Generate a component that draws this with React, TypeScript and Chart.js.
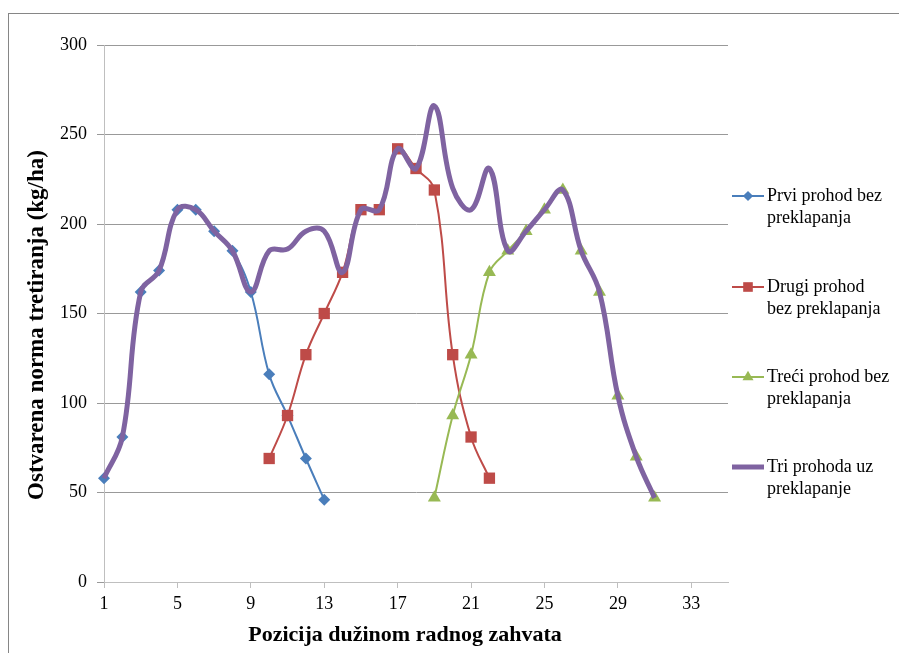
import React, { useEffect, useRef } from 'react';
import { Chart, registerables } from 'chart.js';

Chart.register(...registerables);

// ---- data ----
const xTickValues = [1, 5, 9, 13, 17, 21, 25, 29, 33];
const yTickValues = [0, 50, 100, 150, 200, 250, 300];

const seriesNames = [
  ['Prvi prohod bez', 'preklapanja'],
  ['Drugi prohod', 'bez preklapanja'],
  ['Treći prohod bez', 'preklapanja'],
  ['Tri prohoda uz', 'preklapanje'],
];

const prviX = [1, 2, 3, 4, 5, 6, 7, 8, 9, 10, 11, 12, 13];
const prviY = [58, 81, 162, 174, 208, 208, 196, 185, 162, 116, 93, 69, 46];

const drugiX = [10, 11, 12, 13, 14, 15, 16, 17, 18, 19, 20, 21, 22];
const drugiY = [69, 93, 127, 150, 173, 208, 208, 242, 231, 219, 127, 81, 58];

const treciX = [19, 20, 21, 22, 23, 24, 25, 26, 27, 28, 29, 30, 31];
const treciY = [47, 93, 127, 173, 185, 196, 208, 219, 185, 162, 104, 70, 47];

const triX = [1, 2, 3, 4, 5, 6, 7, 8, 9, 10, 11, 12, 13, 14, 15, 16, 17, 18, 19, 20, 21, 22, 23, 24, 25, 26, 27, 28, 29, 30, 31];
const triY = [58, 81, 162, 174, 208, 208, 196, 185, 162, 185, 186, 196, 196, 173, 208, 208, 242, 231, 266, 220, 208, 231, 185, 196, 208, 219, 185, 162, 104, 70, 47];

const yTitle = 'Ostvarena norma tretiranja (kg/ha)';
const xTitle = 'Pozicija dužinom radnog zahvata';

// ---- styles ----
const FONT = "'Liberation Serif', 'Times New Roman', serif";
const colors = ['#4A7EBB', '#BE4B48', '#98B954', '#7F63A1'];
const pointStyles: any[] = ['rectRot', 'rect', 'triangle', false];
const pointRadii = [6, 8, 7.5, 0];
const lineWidths = [2, 2, 2, 5];

const toPoints = (xs: number[], ys: number[]) => xs.map((x, i) => ({ x, y: ys[i] }));

function drawMarker(ctx: CanvasRenderingContext2D, style: string, r: number, x: number, y: number) {
  ctx.beginPath();
  if (style === 'rectRot') {
    ctx.moveTo(x, y - r);
    ctx.lineTo(x + r, y);
    ctx.lineTo(x, y + r);
    ctx.lineTo(x - r, y);
  } else if (style === 'rect') {
    const s = r * Math.SQRT1_2;
    ctx.rect(x - s, y - s, 2 * s, 2 * s);
  } else if (style === 'triangle') {
    ctx.moveTo(x, y - r);
    ctx.lineTo(x + r * Math.sin((2 * Math.PI) / 3), y + r * 0.5);
    ctx.lineTo(x - r * Math.sin((2 * Math.PI) / 3), y + r * 0.5);
  }
  ctx.closePath();
  ctx.fill();
}

const decorPlugin = {
  id: 'decor',
  beforeDraw(chart: any) {
    const ctx = chart.ctx;
    ctx.save();
    ctx.strokeStyle = '#868686';
    ctx.lineWidth = 1;
    ctx.strokeRect(8.5, 13.5, 1200, 1200);
    ctx.restore();
  },
  afterDraw(chart: any) {
    const ctx = chart.ctx;
    ctx.save();
    ctx.fillStyle = '#000';
    // axis titles
    ctx.textAlign = 'center';
    ctx.textBaseline = 'middle';
    ctx.font = `bold 22px ${FONT}`;
    ctx.fillText(xTitle, 405, 635);
    ctx.save();
    ctx.translate(37, 325);
    ctx.rotate(-Math.PI / 2);
    ctx.font = `bold 23px ${FONT}`;
    ctx.fillText(yTitle, 0, 0);
    ctx.restore();

    // legend
    const centers = [196, 287, 377, 467];
    ctx.font = `18px ${FONT}`;
    ctx.textAlign = 'left';
    ctx.textBaseline = 'middle';
    seriesNames.forEach((lines, i) => {
      const cy = centers[i];
      ctx.strokeStyle = colors[i];
      ctx.lineWidth = lineWidths[i];
      ctx.beginPath();
      ctx.moveTo(732, cy);
      ctx.lineTo(764, cy);
      ctx.stroke();
      if (pointStyles[i]) {
        ctx.fillStyle = colors[i];
        drawMarker(ctx, pointStyles[i], pointRadii[i] * 0.85, 748, cy);
      }
      ctx.fillStyle = '#000';
      lines.forEach((t, j) => ctx.fillText(t, 767, cy + j * 22));
    });
    ctx.restore();
  },
};

export default function App() {
  const ref = useRef<HTMLCanvasElement>(null);

  useEffect(() => {
    if (!ref.current) return;
    const xs = [prviX, drugiX, treciX, triX];
    const ys = [prviY, drugiY, treciY, triY];
    const orders = [4, 3, 2, 1];
    const chart = new Chart(ref.current, {
      type: 'scatter',
      data: {
        datasets: xs.map((xArr, i) => ({
          label: seriesNames[i].join(' '),
          data: toPoints(xArr, ys[i]),
          showLine: true,
          borderColor: colors[i],
          backgroundColor: colors[i],
          borderWidth: lineWidths[i],
          pointStyle: pointStyles[i],
          pointRadius: pointRadii[i],
          pointBorderWidth: 0,
          pointHoverRadius: pointRadii[i],
          tension: 0.4,
          clip: false as any,
          order: orders[i],
        })),
      },
      options: {
        animation: false,
        responsive: false,
        devicePixelRatio: 1,
        layout: { padding: { left: 0, top: 45, right: 171, bottom: 0 } },
        plugins: { legend: { display: false }, tooltip: { enabled: false } },
        scales: {
          x: {
            type: 'linear',
            min: 1,
            max: 35,
            afterFit: (s: any) => { s.height = 71; },
            afterBuildTicks: (s: any) => { s.ticks = xTickValues.map((v) => ({ value: v })); },
            ticks: { font: { family: FONT, size: 18 }, color: '#000', padding: 5, autoSkip: false, maxRotation: 0 },
            grid: { drawOnChartArea: false, drawTicks: true, tickLength: 6, color: '#BFBFBF' },
            border: { color: '#BFBFBF' },
          },
          y: {
            type: 'linear',
            min: 0,
            max: 300,
            afterFit: (s: any) => { s.width = 104; },
            afterBuildTicks: (s: any) => { s.ticks = yTickValues.map((v) => ({ value: v })); },
            ticks: { font: { family: FONT, size: 18 }, color: '#000', padding: 10 },
            grid: { color: '#999999', tickLength: 7 },
            border: { color: '#BFBFBF' },
          },
        },
      },
      plugins: [decorPlugin],
    });
    return () => chart.destroy();
  }, []);

  return (
    <div style={{ position: 'fixed', left: 0, top: 0, width: 899, height: 653, background: '#fff' }}>
      <canvas ref={ref} width={899} height={653} style={{ display: 'block', width: 899, height: 653 }} />
    </div>
  );
}
